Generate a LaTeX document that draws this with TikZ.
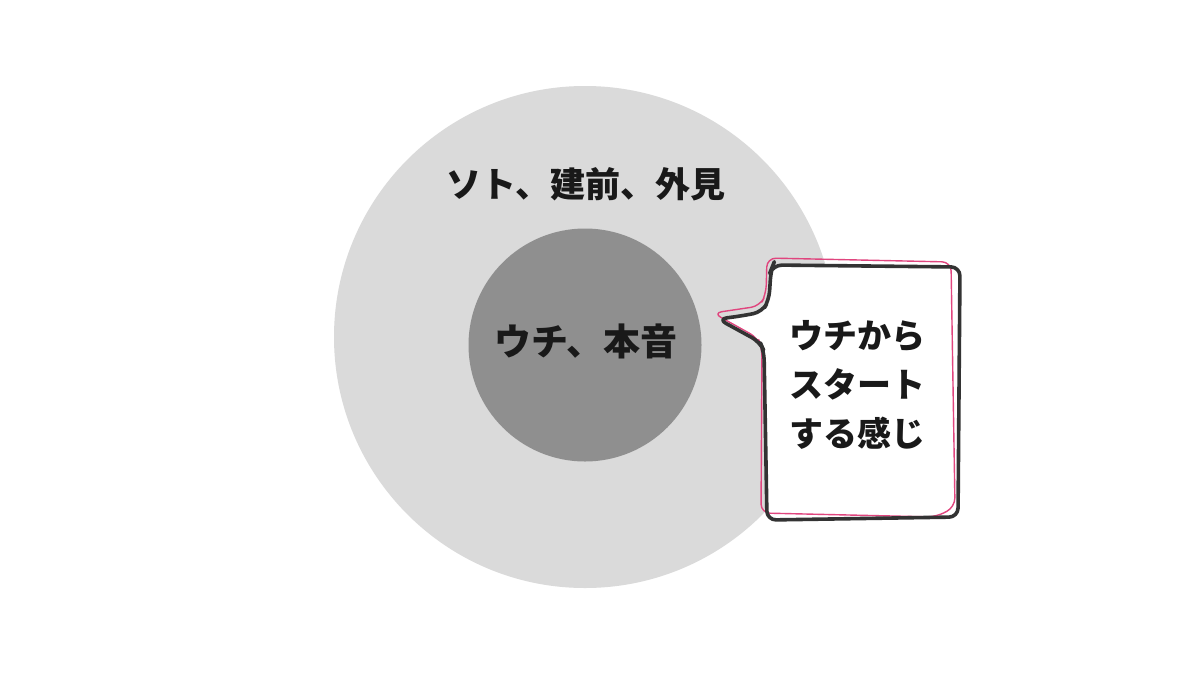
\documentclass[tikz,border=0pt]{standalone}
\usepackage{fontspec}
\setmainfont{Noto Sans CJK JP}
\definecolor{LightGray}{HTML}{DADADA}
\definecolor{MidGray}{HTML}{8F8F8F}
\definecolor{InkBlack}{HTML}{333333}
\definecolor{Pink}{HTML}{E0457E}
\usetikzlibrary{positioning,calc}

\begin{document}
\begin{tikzpicture}
[x=1pt,y=-1pt,
   disc/.style={circle,inner sep=0pt,draw=none},
   lb/.style={font=\fontsize{34}{49}\selectfont\bfseries,text=black!90,align=center},
   ink/.style={InkBlack,line width=3.6pt,rounded corners=9pt,line join=round},
   pinkline/.style={Pink,line width=1.4pt,rounded corners=9pt,line join=round}]
\useasboundingbox[fill=white] (0,0) rectangle (1200,675);
\node[disc,fill=LightGray,minimum size=502pt] (soto) at (585,337) {};
\node[disc,fill=MidGray,minimum size=233pt] (uchi) at (585,345) {};
\node[lb,font=\fontsize{35}{48}\selectfont\bfseries] (sotolabel) at (586,184) {ソト、建前、外見};
\node[lb,font=\fontsize{37}{48}\selectfont\bfseries] (uchilabel) at (586,341) {ウチ、本音};
%% speech bubble
\fill[white,rounded corners=9pt] (718,319) -- (762,312) -- (770,300) -- (772,265)
   -- (960,267) -- (958,517) -- (767,520) -- (764,351) -- (760,342) -- cycle;
\draw[pinkline] (713,313) -- (760,306) -- (766,294) -- (767,258) -- (951,262)
   -- (955,507) -- (936,517) -- (761,513) -- (762,348) -- (758,338) -- cycle;
\draw[ink] (718,319) -- (741,316) -- (762,312) -- (769,300) -- (771,270) -- (773,265)
   -- (960,267) -- (958,517) -- (767,520) -- (764,351) -- (760,342) -- cycle;
\node[lb] (start) at (857,385) {ウチから\\スタート\\する感じ};
%%
\end{tikzpicture}
\end{document}
